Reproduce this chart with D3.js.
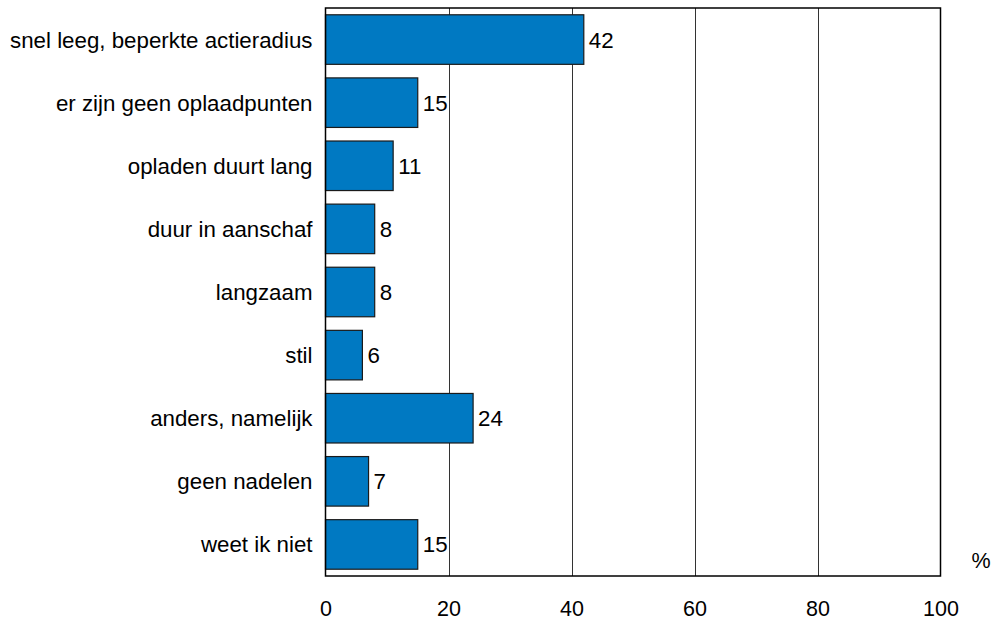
<!DOCTYPE html>
<html>
<head>
<meta charset="utf-8">
<script src="https://cdn.jsdelivr.net/npm/d3@7"></script>
<style>
  html, body { margin: 0; padding: 0; background: #fff; }
  svg { display: block; }
  text { font-family: "Liberation Sans", Arial, sans-serif; fill: #000; }
</style>
</head>
<body>
<svg id="chart" width="1000" height="623"></svg>
<script>
const categories = [
  "snel leeg, beperkte actieradius",
  "er zijn geen oplaadpunten",
  "opladen duurt lang",
  "duur in aanschaf",
  "langzaam",
  "stil",
  "anders, namelijk",
  "geen nadelen",
  "weet ik niet"
];
const values = [42, 15, 11, 8, 8, 6, 24, 7, 15];
const xTicks = [0, 20, 40, 60, 80, 100];
const unitLabel = "%";

const svg = d3.select("#chart");
const mLeft = 325.5, mRight = 940.5, mTop = 8, mBottom = 576;

const x = d3.scaleLinear().domain([0, 100]).range([mLeft, mRight]);
const y = d3.scaleBand().domain(categories).range([mTop, mBottom])
  .paddingInner(0.215).paddingOuter(0.1075);

// gridlines
svg.append("g").selectAll("line")
  .data(xTicks.filter(t => t > 0 && t < 100))
  .join("line")
  .attr("x1", d => Math.round(x(d)) + 0.5).attr("x2", d => Math.round(x(d)) + 0.5)
  .attr("y1", mTop).attr("y2", mBottom)
  .attr("stroke", "#333").attr("stroke-width", 1);

// bars
svg.append("g").selectAll("rect")
  .data(values)
  .join("rect")
  .attr("x", x(0))
  .attr("y", (d, i) => y(categories[i]))
  .attr("width", d => x(d) - x(0))
  .attr("height", y.bandwidth())
  .attr("fill", "#0079C2")
  .attr("stroke", "#1a1a1a")
  .attr("stroke-width", 1.2);

// frame
svg.append("rect")
  .attr("x", mLeft).attr("y", mTop)
  .attr("width", mRight - mLeft).attr("height", mBottom - mTop)
  .attr("fill", "none").attr("stroke", "#000").attr("stroke-width", 1.5);

// value labels
svg.append("g").selectAll("text")
  .data(values)
  .join("text")
  .attr("x", d => x(d) + 5)
  .attr("y", (d, i) => y(categories[i]) + y.bandwidth() / 2)
  .attr("dy", "0.36em")
  .attr("font-size", 22.3)
  .text(d => d);

// category axis (labels only)
const yAxis = d3.axisLeft(y).tickSize(0).tickPadding(13);
const gy = svg.append("g").attr("transform", `translate(${mLeft},0)`).call(yAxis);
gy.select(".domain").remove();
gy.selectAll("text").attr("font-size", 22.3).attr("font-family", "Liberation Sans, Arial, sans-serif").attr("fill", "#000").attr("dy", "0.36em");

// x axis (labels only)
const xAxis = d3.axisBottom(x).tickValues(xTicks).tickSize(0).tickPadding(25);
const gx = svg.append("g").attr("transform", `translate(0,${mBottom})`).call(xAxis);
gx.select(".domain").remove();
gx.selectAll("text").attr("font-size", 21.5).attr("font-family", "Liberation Sans, Arial, sans-serif").attr("fill", "#000");

// unit label
svg.append("text")
  .attr("x", 981).attr("y", 560)
  .attr("dy", "0.36em")
  .attr("text-anchor", "middle")
  .attr("font-size", 21.5)
  .text(unitLabel);
</script>
</body>
</html>
